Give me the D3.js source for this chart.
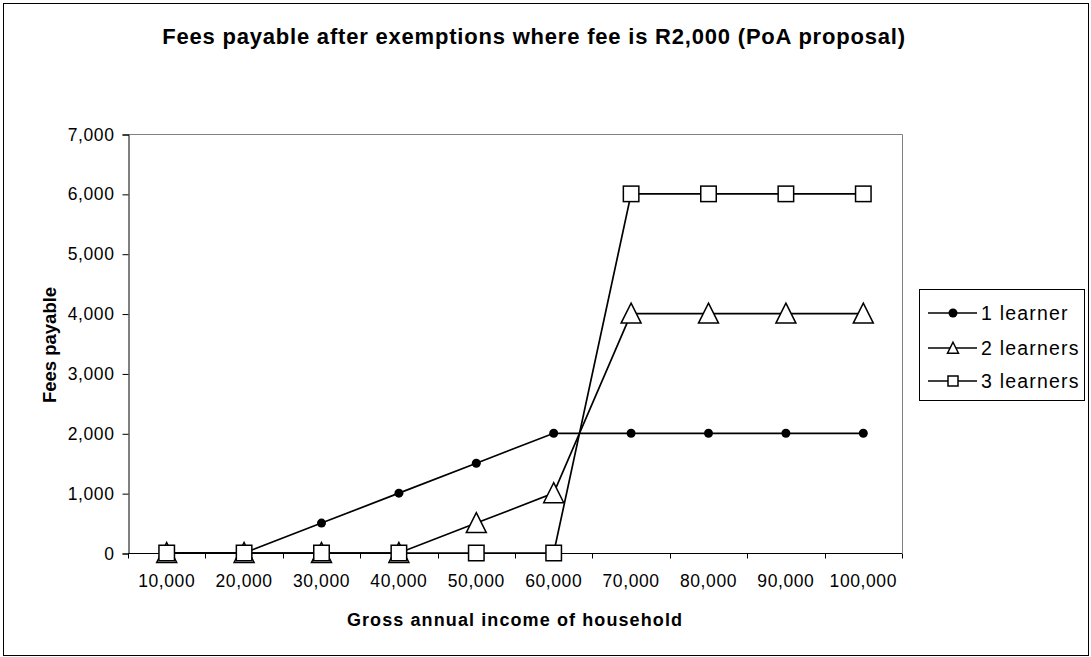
<!DOCTYPE html>
<html>
<head>
<meta charset="utf-8">
<script src="https://cdn.jsdelivr.net/npm/d3@7"></script>
<style>
  body { margin: 0; background: #fff; }
  svg { font-family: "Liberation Sans", Arial, sans-serif; }
</style>
</head>
<body>
<svg id="chart"></svg>
<script>
const incomes = ["10,000", "20,000", "30,000", "40,000", "50,000", "60,000", "70,000", "80,000", "90,000", "100,000"];
const oneLearner = [0, 0, 500, 1000, 1500, 2000, 2000, 2000, 2000, 2000];
const twoLearners = [0, 0, 0, 0, 500, 1000, 4000, 4000, 4000, 4000];
const threeLearners = [0, 0, 0, 0, 0, 0, 6000, 6000, 6000, 6000];
const seriesNames = ["1 learner", "2 learners", "3 learners"];
const yTicks = [0, 1000, 2000, 3000, 4000, 5000, 6000, 7000];

const width = 1091, height = 657;
const margin = { left: 128, right: 189, top: 134, bottom: 104 };

const svg = d3.select("#chart").attr("width", width).attr("height", height);

// outer frame
svg.append("rect")
  .attr("x", 3.5).attr("y", 3.5)
  .attr("width", 1085).attr("height", 652)
  .attr("fill", "#fff").attr("stroke", "#000").attr("stroke-width", 1);

const x = d3.scaleBand()
  .domain(incomes)
  .range([margin.left, width - margin.right]);

const y = d3.scaleLinear()
  .domain([0, 7000])
  .range([height - margin.bottom, margin.top]);

const fmt = d3.format(",");

// plot area border (top & right gray)
svg.append("path")
  .attr("d", `M${margin.left},${y(7000) + 0.5}H${width - margin.right + 0.5}V${y(0)}`)
  .attr("fill", "none").attr("stroke", "#808080");

// y axis
svg.append("g")
  .attr("transform", `translate(${margin.left + 0.5},0.5)`)
  .call(d3.axisLeft(y).tickValues(yTicks).tickFormat(fmt).tickSize(6).tickPadding(8))
  .call(g => g.selectAll("text")
    .attr("font-size", 17.5).attr("letter-spacing", 0.6)
    .attr("font-family", "'Liberation Sans', Arial, sans-serif").attr("fill", "#000"))
  .call(g => g.selectAll("line, path").attr("stroke", "#000"));

// x axis: ticks at band boundaries
const xAxis = svg.append("g")
  .attr("transform", `translate(0,${y(0) + 0.5})`);
xAxis.append("line")
  .attr("x1", margin.left).attr("x2", width - margin.right)
  .attr("stroke", "#000");
const bounds = incomes.map(d => x(d)).concat([x(incomes[incomes.length - 1]) + x.bandwidth()]);
xAxis.selectAll(".tick-line").data(bounds).join("line")
  .attr("x1", d => Math.round(d) + 0.5).attr("x2", d => Math.round(d) + 0.5)
  .attr("y1", 0).attr("y2", 5).attr("stroke", "#000");
xAxis.selectAll("text").data(incomes).join("text")
  .attr("x", d => x(d) + x.bandwidth() / 2)
  .attr("y", 33)
  .attr("text-anchor", "middle")
  .attr("font-size", 17.5).attr("letter-spacing", 0.6)
  .text(d => d);

// titles
svg.append("text")
  .attr("x", 534).attr("y", 44)
  .attr("text-anchor", "middle")
  .attr("font-size", 22).attr("font-weight", "bold")
  .attr("letter-spacing", 0.8)
  .text("Fees payable after exemptions where fee is R2,000 (PoA proposal)");

svg.append("text")
  .attr("x", 515).attr("y", 626)
  .attr("text-anchor", "middle")
  .attr("font-size", 18).attr("font-weight", "bold")
  .attr("letter-spacing", 1.1)
  .text("Gross annual income of household");

svg.append("text")
  .attr("transform", `translate(56,345) rotate(-90)`)
  .attr("text-anchor", "middle")
  .attr("font-size", 18.5).attr("font-weight", "bold")
  .text("Fees payable");

// series
const cx = d => x(d) + x.bandwidth() / 2;
const line = d3.line().x(d => cx(d.income)).y(d => y(d.value));
const toPoints = vals => incomes.map((inc, i) => ({ income: inc, value: vals[i] }));

const series = [
  { name: seriesNames[0], values: oneLearner, marker: "circle" },
  { name: seriesNames[1], values: twoLearners, marker: "triangle" },
  { name: seriesNames[2], values: threeLearners, marker: "square" }
];

function drawMarker(g, type, big) {
  if (type === "circle") {
    g.append("circle").attr("r", 4.5).attr("fill", "#000");
  } else if (type === "triangle") {
    const k = big ? 1 : 0.55;
    g.append("path")
      .attr("d", `M0,${-10.5 * k}L${10 * k},${9.5 * k}L${-10 * k},${9.5 * k}Z`)
      .attr("fill", "#fff").attr("stroke", "#000").attr("stroke-width", 1.5);
  } else {
    const s = big ? 7.75 : 5;
    g.append("rect")
      .attr("x", -s).attr("y", -s).attr("width", 2 * s).attr("height", 2 * s)
      .attr("fill", "#fff").attr("stroke", "#000").attr("stroke-width", 1.5);
  }
}

series.forEach(s => {
  const pts = toPoints(s.values);
  svg.append("path")
    .datum(pts)
    .attr("d", line)
    .attr("fill", "none").attr("stroke", "#000").attr("stroke-width", 1.7);
  pts.forEach(p => {
    const g = svg.append("g").attr("transform", `translate(${cx(p.income)},${y(p.value)})`);
    drawMarker(g, s.marker, true);
  });
});

// legend
const legendRows = [313, 348, 381];
const legend = svg.append("g");
legend.append("rect")
  .attr("x", 919.5).attr("y", 289.5).attr("width", 165).attr("height", 111)
  .attr("fill", "#fff").attr("stroke", "#000");
series.forEach((s, i) => {
  const ly = legendRows[i];
  legend.append("line")
    .attr("x1", 928).attr("x2", 977).attr("y1", ly).attr("y2", ly)
    .attr("stroke", "#000").attr("stroke-width", 1.5);
  const g = legend.append("g").attr("transform", `translate(953,${ly})`);
  drawMarker(g, s.marker, false);
  legend.append("text")
    .attr("x", 981).attr("y", ly + 7)
    .attr("font-size", 19.5).attr("letter-spacing", 1.2)
    .text(s.name);
});
</script>
</body>
</html>
